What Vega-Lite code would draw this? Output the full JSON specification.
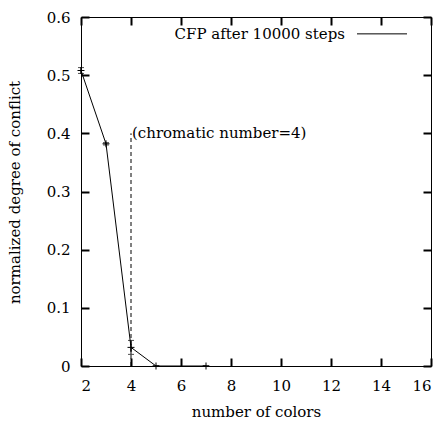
{
  "$schema": "https://vega.github.io/schema/vega-lite/v6.json",
  "width": 350,
  "height": 349,
  "autosize": {"type": "none"},
  "padding": {"left": 81, "top": 17, "right": 9, "bottom": 57},
  "background": "white",
  "config": {
    "view": {"stroke": "black", "strokeWidth": 1},
    "font": "DejaVu Serif",
    "axis": {
      "domain": false,
      "grid": false,
      "labelFont": "DejaVu Serif",
      "labelFontSize": 15,
      "labelColor": "black",
      "titleFont": "DejaVu Serif",
      "titleFontSize": 15,
      "titleFontWeight": "normal",
      "titleColor": "black"
    }
  },
  "datasets": {
    "cfp": [
      {"colors": 2, "conflict": 0.508, "err": 0.005},
      {"colors": 3, "conflict": 0.382, "err": 0.002},
      {"colors": 4, "conflict": 0.032, "err": 0.012},
      {"colors": 5, "conflict": 0.0, "err": 0.0},
      {"colors": 7, "conflict": 0.0, "err": 0.0}
    ],
    "chromatic": [
      {"colors": 4, "low": 0, "high": 0.4, "label": "(chromatic number=4)"}
    ],
    "legend": [
      {"x0": 13.04, "x1": 15.04, "xt": 12.56, "y": 0.571, "label": "CFP after 10000 steps"}
    ]
  },
  "resolve": {"axis": {"x": "independent", "y": "independent"}},
  "layer": [
    {
      "data": {"name": "chromatic"},
      "mark": {"type": "rule", "color": "black", "strokeWidth": 1, "strokeDash": [4, 3]},
      "encoding": {
        "x": {
          "field": "colors", "type": "quantitative",
          "scale": {"domain": [2, 16], "nice": false, "zero": false},
          "axis": {"orient": "bottom", "offset": -8, "ticks": true, "tickSize": 8, "tickColor": "black", "tickWidth": 2, "tickOpacity": 1, "values": [2, 4, 6, 8, 10, 12, 14, 16], "labelPadding": 12, "title": "number of colors", "titleX": 175, "titleY": 58, "titleBaseline": "alphabetic"}
        },
        "y": {
          "field": "low", "type": "quantitative",
          "scale": {"domain": [0, 0.6], "nice": false, "zero": true},
          "axis": {"orient": "left", "offset": -8, "ticks": true, "tickSize": 8, "tickColor": "black", "tickWidth": 2, "tickOpacity": 1, "values": [0, 0.1, 0.2, 0.3, 0.4, 0.5, 0.6], "format": ".1~f", "labelPadding": 11, "title": "normalized degree of conflict", "titleX": -75, "titleY": 175, "titleBaseline": "middle", "titleAlign": "center", "titleAngle": -90}
        },
        "y2": {"field": "high"}
      }
    },
    {
      "data": {"name": "chromatic"},
      "mark": {"type": "rule", "opacity": 0},
      "encoding": {
        "x": {
          "field": "colors", "type": "quantitative",
          "axis": {"orient": "top", "offset": -8, "ticks": true, "tickSize": 8, "tickColor": "black", "tickWidth": 2, "tickOpacity": 1, "values": [2, 4, 6, 8, 10, 12, 14, 16], "labels": false, "title": null}
        },
        "y": {
          "field": "low", "type": "quantitative",
          "axis": {"orient": "right", "offset": -8, "ticks": true, "tickSize": 8, "tickColor": "black", "tickWidth": 2, "tickOpacity": 1, "values": [0, 0.1, 0.2, 0.3, 0.4, 0.5, 0.6], "labels": false, "title": null}
        },
        "y2": {"field": "high"}
      }
    },
    {
      "data": {"name": "chromatic"},
      "mark": {"type": "text", "align": "left", "baseline": "middle", "fontSize": 15, "color": "black", "dx": 1},
      "encoding": {
        "x": {"field": "colors", "type": "quantitative", "axis": null},
        "y": {"field": "high", "type": "quantitative", "axis": null},
        "text": {"field": "label"}
      }
    },
    {
      "data": {"name": "cfp"},
      "mark": {"type": "line", "color": "black", "strokeWidth": 1},
      "encoding": {
        "x": {"field": "colors", "type": "quantitative", "axis": null},
        "y": {"field": "conflict", "type": "quantitative", "axis": null}
      }
    },
    {
      "data": {"name": "cfp"},
      "mark": {"type": "errorbar", "color": "black", "ticks": {"size": 6, "color": "black"}, "rule": {"strokeWidth": 1}},
      "encoding": {
        "x": {"field": "colors", "type": "quantitative", "axis": null},
        "y": {"field": "conflict", "type": "quantitative", "axis": null},
        "yError": {"field": "err"}
      }
    },
    {
      "data": {"name": "cfp"},
      "mark": {"type": "point", "shape": "M-1,0H1M0,-1V1", "size": 49, "stroke": "black", "strokeWidth": 1, "filled": false, "opacity": 1},
      "encoding": {
        "x": {"field": "colors", "type": "quantitative", "axis": null},
        "y": {"field": "conflict", "type": "quantitative", "axis": null}
      }
    },
    {
      "data": {"name": "legend"},
      "mark": {"type": "text", "align": "right", "baseline": "middle", "fontSize": 15, "color": "black"},
      "encoding": {
        "x": {"field": "xt", "type": "quantitative", "axis": null},
        "y": {"field": "y", "type": "quantitative", "axis": null},
        "text": {"field": "label"}
      }
    },
    {
      "data": {"name": "legend"},
      "mark": {"type": "rule", "color": "black", "strokeWidth": 1},
      "encoding": {
        "x": {"field": "x0", "type": "quantitative", "axis": null},
        "x2": {"field": "x1"},
        "y": {"field": "y", "type": "quantitative", "axis": null}
      }
    }
  ]
}
